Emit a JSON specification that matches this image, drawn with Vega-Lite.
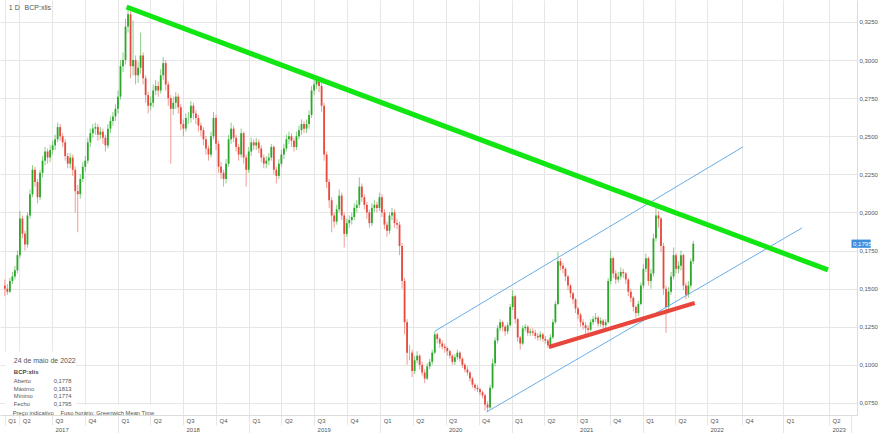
{
"$schema": "https://vega.github.io/schema/vega-lite/v6.json",
"width": 857, "height": 415,
"autosize": {"type": "none"},
"padding": {"left": 0, "top": 0, "right": 23, "bottom": 18},
"background": "white",
"config": {"view": {"stroke": null}, "font": "Liberation Sans"},
"resolve": {"axis": {"x": "independent"}},
"datasets": {
"candles": [
{"d":"2017-02-20","o":0.152,"h":0.156,"l":0.145,"c":0.150},
{"d":"2017-02-27","o":0.150,"h":0.153,"l":0.146,"c":0.148},
{"d":"2017-03-06","o":0.148,"h":0.157,"l":0.147,"c":0.155},
{"d":"2017-03-13","o":0.155,"h":0.161,"l":0.153,"c":0.158},
{"d":"2017-03-20","o":0.158,"h":0.165,"l":0.156,"c":0.162},
{"d":"2017-03-27","o":0.162,"h":0.175,"l":0.160,"c":0.172},
{"d":"2017-04-03","o":0.172,"h":0.201,"l":0.170,"c":0.196},
{"d":"2017-04-10","o":0.196,"h":0.198,"l":0.183,"c":0.186},
{"d":"2017-04-17","o":0.186,"h":0.188,"l":0.175,"c":0.179},
{"d":"2017-04-24","o":0.179,"h":0.200,"l":0.177,"c":0.198},
{"d":"2017-05-01","o":0.198,"h":0.215,"l":0.196,"c":0.212},
{"d":"2017-05-08","o":0.212,"h":0.231,"l":0.210,"c":0.228},
{"d":"2017-05-15","o":0.228,"h":0.230,"l":0.217,"c":0.220},
{"d":"2017-05-22","o":0.220,"h":0.222,"l":0.206,"c":0.210},
{"d":"2017-05-29","o":0.210,"h":0.228,"l":0.208,"c":0.226},
{"d":"2017-06-05","o":0.226,"h":0.237,"l":0.223,"c":0.234},
{"d":"2017-06-12","o":0.234,"h":0.243,"l":0.231,"c":0.240},
{"d":"2017-06-19","o":0.240,"h":0.242,"l":0.232,"c":0.236},
{"d":"2017-06-26","o":0.236,"h":0.244,"l":0.233,"c":0.241},
{"d":"2017-07-03","o":0.241,"h":0.247,"l":0.238,"c":0.244},
{"d":"2017-07-10","o":0.244,"h":0.251,"l":0.241,"c":0.248},
{"d":"2017-07-17","o":0.248,"h":0.259,"l":0.246,"c":0.256},
{"d":"2017-07-24","o":0.256,"h":0.258,"l":0.247,"c":0.250},
{"d":"2017-07-31","o":0.250,"h":0.252,"l":0.243,"c":0.246},
{"d":"2017-08-07","o":0.246,"h":0.248,"l":0.234,"c":0.237},
{"d":"2017-08-14","o":0.237,"h":0.239,"l":0.229,"c":0.232},
{"d":"2017-08-21","o":0.232,"h":0.239,"l":0.229,"c":0.236},
{"d":"2017-08-28","o":0.236,"h":0.238,"l":0.224,"c":0.228},
{"d":"2017-09-04","o":0.228,"h":0.230,"l":0.200,"c":0.214},
{"d":"2017-09-11","o":0.214,"h":0.218,"l":0.187,"c":0.212},
{"d":"2017-09-18","o":0.212,"h":0.225,"l":0.209,"c":0.222},
{"d":"2017-09-25","o":0.222,"h":0.233,"l":0.220,"c":0.230},
{"d":"2017-10-02","o":0.230,"h":0.237,"l":0.227,"c":0.234},
{"d":"2017-10-09","o":0.234,"h":0.249,"l":0.232,"c":0.246},
{"d":"2017-10-16","o":0.246,"h":0.255,"l":0.243,"c":0.252},
{"d":"2017-10-23","o":0.252,"h":0.258,"l":0.249,"c":0.255},
{"d":"2017-10-30","o":0.255,"h":0.259,"l":0.251,"c":0.256},
{"d":"2017-11-06","o":0.256,"h":0.258,"l":0.247,"c":0.251},
{"d":"2017-11-13","o":0.251,"h":0.256,"l":0.248,"c":0.253},
{"d":"2017-11-20","o":0.253,"h":0.255,"l":0.245,"c":0.249},
{"d":"2017-11-27","o":0.249,"h":0.251,"l":0.240,"c":0.244},
{"d":"2017-12-04","o":0.244,"h":0.258,"l":0.242,"c":0.255},
{"d":"2017-12-11","o":0.255,"h":0.263,"l":0.252,"c":0.260},
{"d":"2017-12-18","o":0.260,"h":0.266,"l":0.257,"c":0.263},
{"d":"2017-12-25","o":0.263,"h":0.271,"l":0.260,"c":0.268},
{"d":"2018-01-01","o":0.268,"h":0.280,"l":0.265,"c":0.276},
{"d":"2018-01-08","o":0.276,"h":0.300,"l":0.274,"c":0.296},
{"d":"2018-01-15","o":0.296,"h":0.305,"l":0.292,"c":0.300},
{"d":"2018-01-22","o":0.300,"h":0.327,"l":0.297,"c":0.322},
{"d":"2018-01-29","o":0.322,"h":0.335,"l":0.318,"c":0.330},
{"d":"2018-02-05","o":0.330,"h":0.332,"l":0.288,"c":0.296},
{"d":"2018-02-12","o":0.296,"h":0.326,"l":0.290,"c":0.300},
{"d":"2018-02-19","o":0.300,"h":0.303,"l":0.284,"c":0.290},
{"d":"2018-02-26","o":0.290,"h":0.299,"l":0.285,"c":0.295},
{"d":"2018-03-05","o":0.295,"h":0.318,"l":0.291,"c":0.303},
{"d":"2018-03-12","o":0.303,"h":0.305,"l":0.284,"c":0.288},
{"d":"2018-03-19","o":0.288,"h":0.290,"l":0.272,"c":0.277},
{"d":"2018-03-26","o":0.277,"h":0.279,"l":0.265,"c":0.270},
{"d":"2018-04-02","o":0.270,"h":0.276,"l":0.267,"c":0.272},
{"d":"2018-04-09","o":0.272,"h":0.284,"l":0.269,"c":0.280},
{"d":"2018-04-16","o":0.280,"h":0.287,"l":0.277,"c":0.283},
{"d":"2018-04-23","o":0.283,"h":0.286,"l":0.276,"c":0.280},
{"d":"2018-04-30","o":0.280,"h":0.294,"l":0.278,"c":0.290},
{"d":"2018-05-07","o":0.290,"h":0.302,"l":0.287,"c":0.298},
{"d":"2018-05-14","o":0.298,"h":0.300,"l":0.280,"c":0.284},
{"d":"2018-05-21","o":0.284,"h":0.286,"l":0.270,"c":0.275},
{"d":"2018-05-28","o":0.275,"h":0.277,"l":0.232,"c":0.268},
{"d":"2018-06-04","o":0.268,"h":0.276,"l":0.264,"c":0.272},
{"d":"2018-06-11","o":0.272,"h":0.279,"l":0.268,"c":0.276},
{"d":"2018-06-18","o":0.276,"h":0.278,"l":0.265,"c":0.269},
{"d":"2018-06-25","o":0.269,"h":0.271,"l":0.254,"c":0.258},
{"d":"2018-07-02","o":0.258,"h":0.261,"l":0.250,"c":0.255},
{"d":"2018-07-09","o":0.255,"h":0.265,"l":0.253,"c":0.262},
{"d":"2018-07-16","o":0.262,"h":0.266,"l":0.258,"c":0.262},
{"d":"2018-07-23","o":0.262,"h":0.273,"l":0.259,"c":0.270},
{"d":"2018-07-30","o":0.270,"h":0.272,"l":0.261,"c":0.265},
{"d":"2018-08-06","o":0.265,"h":0.267,"l":0.258,"c":0.262},
{"d":"2018-08-13","o":0.262,"h":0.264,"l":0.253,"c":0.257},
{"d":"2018-08-20","o":0.257,"h":0.259,"l":0.250,"c":0.254},
{"d":"2018-08-27","o":0.254,"h":0.256,"l":0.244,"c":0.248},
{"d":"2018-09-03","o":0.248,"h":0.250,"l":0.238,"c":0.242},
{"d":"2018-09-10","o":0.242,"h":0.244,"l":0.234,"c":0.238},
{"d":"2018-09-17","o":0.238,"h":0.253,"l":0.236,"c":0.250},
{"d":"2018-09-24","o":0.250,"h":0.266,"l":0.248,"c":0.262},
{"d":"2018-10-01","o":0.262,"h":0.264,"l":0.241,"c":0.245},
{"d":"2018-10-08","o":0.245,"h":0.247,"l":0.226,"c":0.230},
{"d":"2018-10-15","o":0.230,"h":0.233,"l":0.222,"c":0.226},
{"d":"2018-10-22","o":0.226,"h":0.228,"l":0.217,"c":0.222},
{"d":"2018-10-29","o":0.222,"h":0.235,"l":0.219,"c":0.232},
{"d":"2018-11-05","o":0.232,"h":0.251,"l":0.230,"c":0.248},
{"d":"2018-11-12","o":0.248,"h":0.259,"l":0.245,"c":0.255},
{"d":"2018-11-19","o":0.255,"h":0.257,"l":0.246,"c":0.249},
{"d":"2018-11-26","o":0.249,"h":0.251,"l":0.240,"c":0.243},
{"d":"2018-12-03","o":0.243,"h":0.245,"l":0.234,"c":0.238},
{"d":"2018-12-10","o":0.238,"h":0.255,"l":0.236,"c":0.252},
{"d":"2018-12-17","o":0.252,"h":0.253,"l":0.232,"c":0.236},
{"d":"2018-12-24","o":0.236,"h":0.238,"l":0.217,"c":0.228},
{"d":"2018-12-31","o":0.228,"h":0.243,"l":0.226,"c":0.240},
{"d":"2019-01-07","o":0.240,"h":0.249,"l":0.237,"c":0.246},
{"d":"2019-01-14","o":0.246,"h":0.248,"l":0.241,"c":0.244},
{"d":"2019-01-21","o":0.244,"h":0.249,"l":0.241,"c":0.246},
{"d":"2019-01-28","o":0.246,"h":0.248,"l":0.239,"c":0.242},
{"d":"2019-02-04","o":0.242,"h":0.244,"l":0.233,"c":0.236},
{"d":"2019-02-11","o":0.236,"h":0.238,"l":0.229,"c":0.232},
{"d":"2019-02-18","o":0.232,"h":0.237,"l":0.229,"c":0.234},
{"d":"2019-02-25","o":0.234,"h":0.239,"l":0.231,"c":0.236},
{"d":"2019-03-04","o":0.236,"h":0.245,"l":0.234,"c":0.243},
{"d":"2019-03-11","o":0.243,"h":0.244,"l":0.225,"c":0.228},
{"d":"2019-03-18","o":0.228,"h":0.230,"l":0.219,"c":0.224},
{"d":"2019-03-25","o":0.224,"h":0.235,"l":0.222,"c":0.232},
{"d":"2019-04-01","o":0.232,"h":0.241,"l":0.230,"c":0.238},
{"d":"2019-04-08","o":0.238,"h":0.245,"l":0.235,"c":0.242},
{"d":"2019-04-15","o":0.242,"h":0.251,"l":0.240,"c":0.248},
{"d":"2019-04-22","o":0.248,"h":0.253,"l":0.245,"c":0.250},
{"d":"2019-04-29","o":0.250,"h":0.252,"l":0.243,"c":0.247},
{"d":"2019-05-06","o":0.247,"h":0.249,"l":0.240,"c":0.243},
{"d":"2019-05-13","o":0.243,"h":0.253,"l":0.241,"c":0.250},
{"d":"2019-05-20","o":0.250,"h":0.257,"l":0.248,"c":0.254},
{"d":"2019-05-27","o":0.254,"h":0.261,"l":0.251,"c":0.258},
{"d":"2019-06-03","o":0.258,"h":0.260,"l":0.252,"c":0.255},
{"d":"2019-06-10","o":0.255,"h":0.261,"l":0.252,"c":0.258},
{"d":"2019-06-17","o":0.258,"h":0.267,"l":0.255,"c":0.264},
{"d":"2019-06-24","o":0.264,"h":0.283,"l":0.262,"c":0.280},
{"d":"2019-07-01","o":0.280,"h":0.287,"l":0.277,"c":0.284},
{"d":"2019-07-08","o":0.284,"h":0.289,"l":0.281,"c":0.287},
{"d":"2019-07-15","o":0.287,"h":0.289,"l":0.279,"c":0.283},
{"d":"2019-07-22","o":0.283,"h":0.285,"l":0.266,"c":0.270},
{"d":"2019-07-29","o":0.270,"h":0.272,"l":0.234,"c":0.238},
{"d":"2019-08-05","o":0.238,"h":0.240,"l":0.216,"c":0.220},
{"d":"2019-08-12","o":0.220,"h":0.222,"l":0.203,"c":0.208},
{"d":"2019-08-19","o":0.208,"h":0.210,"l":0.187,"c":0.198},
{"d":"2019-08-26","o":0.198,"h":0.200,"l":0.190,"c":0.194},
{"d":"2019-09-02","o":0.194,"h":0.205,"l":0.192,"c":0.202},
{"d":"2019-09-09","o":0.202,"h":0.215,"l":0.200,"c":0.211},
{"d":"2019-09-16","o":0.211,"h":0.213,"l":0.195,"c":0.198},
{"d":"2019-09-23","o":0.198,"h":0.200,"l":0.177,"c":0.186},
{"d":"2019-09-30","o":0.186,"h":0.196,"l":0.184,"c":0.193},
{"d":"2019-10-07","o":0.193,"h":0.198,"l":0.190,"c":0.195},
{"d":"2019-10-14","o":0.195,"h":0.200,"l":0.192,"c":0.197},
{"d":"2019-10-21","o":0.197,"h":0.206,"l":0.195,"c":0.203},
{"d":"2019-10-28","o":0.203,"h":0.208,"l":0.200,"c":0.205},
{"d":"2019-11-04","o":0.205,"h":0.223,"l":0.203,"c":0.217},
{"d":"2019-11-11","o":0.217,"h":0.219,"l":0.207,"c":0.210},
{"d":"2019-11-18","o":0.210,"h":0.212,"l":0.202,"c":0.205},
{"d":"2019-11-25","o":0.205,"h":0.207,"l":0.196,"c":0.200},
{"d":"2019-12-02","o":0.200,"h":0.202,"l":0.190,"c":0.193},
{"d":"2019-12-09","o":0.193,"h":0.206,"l":0.191,"c":0.203},
{"d":"2019-12-16","o":0.203,"h":0.208,"l":0.200,"c":0.205},
{"d":"2019-12-23","o":0.205,"h":0.207,"l":0.200,"c":0.203},
{"d":"2019-12-30","o":0.203,"h":0.213,"l":0.201,"c":0.210},
{"d":"2020-01-06","o":0.210,"h":0.212,"l":0.197,"c":0.200},
{"d":"2020-01-13","o":0.200,"h":0.202,"l":0.189,"c":0.192},
{"d":"2020-01-20","o":0.192,"h":0.194,"l":0.184,"c":0.188},
{"d":"2020-01-27","o":0.188,"h":0.200,"l":0.186,"c":0.198},
{"d":"2020-02-03","o":0.198,"h":0.203,"l":0.195,"c":0.200},
{"d":"2020-02-10","o":0.200,"h":0.202,"l":0.190,"c":0.193},
{"d":"2020-02-17","o":0.193,"h":0.196,"l":0.189,"c":0.192},
{"d":"2020-02-24","o":0.192,"h":0.194,"l":0.172,"c":0.178},
{"d":"2020-03-02","o":0.178,"h":0.180,"l":0.150,"c":0.155},
{"d":"2020-03-09","o":0.155,"h":0.157,"l":0.120,"c":0.128},
{"d":"2020-03-16","o":0.128,"h":0.130,"l":0.100,"c":0.108},
{"d":"2020-03-23","o":0.108,"h":0.113,"l":0.103,"c":0.108},
{"d":"2020-03-30","o":0.108,"h":0.110,"l":0.092,"c":0.096},
{"d":"2020-04-06","o":0.096,"h":0.106,"l":0.094,"c":0.103},
{"d":"2020-04-13","o":0.103,"h":0.109,"l":0.101,"c":0.106},
{"d":"2020-04-20","o":0.106,"h":0.107,"l":0.097,"c":0.100},
{"d":"2020-04-27","o":0.100,"h":0.102,"l":0.093,"c":0.095},
{"d":"2020-05-04","o":0.095,"h":0.097,"l":0.088,"c":0.091},
{"d":"2020-05-11","o":0.091,"h":0.101,"l":0.090,"c":0.099},
{"d":"2020-05-18","o":0.099,"h":0.104,"l":0.097,"c":0.102},
{"d":"2020-05-25","o":0.102,"h":0.110,"l":0.100,"c":0.108},
{"d":"2020-06-01","o":0.108,"h":0.122,"l":0.107,"c":0.120},
{"d":"2020-06-08","o":0.120,"h":0.121,"l":0.114,"c":0.117},
{"d":"2020-06-15","o":0.117,"h":0.118,"l":0.111,"c":0.114},
{"d":"2020-06-22","o":0.114,"h":0.116,"l":0.110,"c":0.112},
{"d":"2020-06-29","o":0.112,"h":0.114,"l":0.108,"c":0.111},
{"d":"2020-07-06","o":0.111,"h":0.112,"l":0.106,"c":0.109},
{"d":"2020-07-13","o":0.109,"h":0.110,"l":0.104,"c":0.106},
{"d":"2020-07-20","o":0.106,"h":0.107,"l":0.100,"c":0.102},
{"d":"2020-07-27","o":0.102,"h":0.107,"l":0.100,"c":0.105},
{"d":"2020-08-03","o":0.105,"h":0.110,"l":0.103,"c":0.108},
{"d":"2020-08-10","o":0.108,"h":0.109,"l":0.102,"c":0.104},
{"d":"2020-08-17","o":0.104,"h":0.105,"l":0.098,"c":0.100},
{"d":"2020-08-24","o":0.100,"h":0.101,"l":0.095,"c":0.097},
{"d":"2020-08-31","o":0.097,"h":0.099,"l":0.093,"c":0.095},
{"d":"2020-09-07","o":0.095,"h":0.096,"l":0.089,"c":0.091},
{"d":"2020-09-14","o":0.091,"h":0.092,"l":0.085,"c":0.087},
{"d":"2020-09-21","o":0.087,"h":0.088,"l":0.083,"c":0.085},
{"d":"2020-09-28","o":0.085,"h":0.087,"l":0.082,"c":0.084},
{"d":"2020-10-05","o":0.084,"h":0.085,"l":0.080,"c":0.082},
{"d":"2020-10-12","o":0.082,"h":0.083,"l":0.078,"c":0.080},
{"d":"2020-10-19","o":0.080,"h":0.081,"l":0.070,"c":0.074},
{"d":"2020-10-26","o":0.074,"h":0.076,"l":0.069,"c":0.072},
{"d":"2020-11-02","o":0.072,"h":0.087,"l":0.071,"c":0.085},
{"d":"2020-11-09","o":0.085,"h":0.104,"l":0.084,"c":0.101},
{"d":"2020-11-16","o":0.101,"h":0.118,"l":0.099,"c":0.116},
{"d":"2020-11-23","o":0.116,"h":0.126,"l":0.114,"c":0.124},
{"d":"2020-11-30","o":0.124,"h":0.130,"l":0.122,"c":0.128},
{"d":"2020-12-07","o":0.128,"h":0.129,"l":0.122,"c":0.125},
{"d":"2020-12-14","o":0.125,"h":0.126,"l":0.119,"c":0.122},
{"d":"2020-12-21","o":0.122,"h":0.128,"l":0.120,"c":0.126},
{"d":"2020-12-28","o":0.126,"h":0.140,"l":0.125,"c":0.138},
{"d":"2021-01-04","o":0.138,"h":0.149,"l":0.136,"c":0.145},
{"d":"2021-01-11","o":0.145,"h":0.146,"l":0.127,"c":0.130},
{"d":"2021-01-18","o":0.130,"h":0.131,"l":0.115,"c":0.118},
{"d":"2021-01-25","o":0.118,"h":0.119,"l":0.110,"c":0.114},
{"d":"2021-02-01","o":0.114,"h":0.126,"l":0.113,"c":0.124},
{"d":"2021-02-08","o":0.124,"h":0.127,"l":0.122,"c":0.125},
{"d":"2021-02-15","o":0.125,"h":0.126,"l":0.119,"c":0.121},
{"d":"2021-02-22","o":0.121,"h":0.124,"l":0.119,"c":0.122},
{"d":"2021-03-01","o":0.122,"h":0.124,"l":0.119,"c":0.121},
{"d":"2021-03-08","o":0.121,"h":0.123,"l":0.117,"c":0.119},
{"d":"2021-03-15","o":0.119,"h":0.121,"l":0.116,"c":0.118},
{"d":"2021-03-22","o":0.118,"h":0.122,"l":0.116,"c":0.120},
{"d":"2021-03-29","o":0.120,"h":0.121,"l":0.115,"c":0.117},
{"d":"2021-04-05","o":0.117,"h":0.119,"l":0.114,"c":0.116},
{"d":"2021-04-12","o":0.116,"h":0.117,"l":0.111,"c":0.113},
{"d":"2021-04-19","o":0.113,"h":0.120,"l":0.112,"c":0.118},
{"d":"2021-04-26","o":0.118,"h":0.130,"l":0.117,"c":0.128},
{"d":"2021-05-03","o":0.128,"h":0.142,"l":0.127,"c":0.140},
{"d":"2021-05-10","o":0.140,"h":0.174,"l":0.139,"c":0.168},
{"d":"2021-05-17","o":0.168,"h":0.170,"l":0.162,"c":0.165},
{"d":"2021-05-24","o":0.165,"h":0.167,"l":0.160,"c":0.163},
{"d":"2021-05-31","o":0.163,"h":0.164,"l":0.155,"c":0.158},
{"d":"2021-06-07","o":0.158,"h":0.159,"l":0.149,"c":0.152},
{"d":"2021-06-14","o":0.152,"h":0.153,"l":0.144,"c":0.147},
{"d":"2021-06-21","o":0.147,"h":0.148,"l":0.140,"c":0.143},
{"d":"2021-06-28","o":0.143,"h":0.144,"l":0.134,"c":0.137},
{"d":"2021-07-05","o":0.137,"h":0.138,"l":0.130,"c":0.133},
{"d":"2021-07-12","o":0.133,"h":0.134,"l":0.125,"c":0.128},
{"d":"2021-07-19","o":0.128,"h":0.130,"l":0.123,"c":0.126},
{"d":"2021-07-26","o":0.126,"h":0.128,"l":0.120,"c":0.124},
{"d":"2021-08-02","o":0.124,"h":0.126,"l":0.121,"c":0.123},
{"d":"2021-08-09","o":0.123,"h":0.130,"l":0.122,"c":0.128},
{"d":"2021-08-16","o":0.128,"h":0.132,"l":0.126,"c":0.130},
{"d":"2021-08-23","o":0.130,"h":0.134,"l":0.128,"c":0.131},
{"d":"2021-08-30","o":0.131,"h":0.132,"l":0.125,"c":0.127},
{"d":"2021-09-06","o":0.127,"h":0.131,"l":0.125,"c":0.129},
{"d":"2021-09-13","o":0.129,"h":0.130,"l":0.124,"c":0.126},
{"d":"2021-09-20","o":0.126,"h":0.130,"l":0.124,"c":0.128},
{"d":"2021-09-27","o":0.128,"h":0.157,"l":0.127,"c":0.155},
{"d":"2021-10-04","o":0.155,"h":0.175,"l":0.153,"c":0.170},
{"d":"2021-10-11","o":0.170,"h":0.171,"l":0.157,"c":0.160},
{"d":"2021-10-18","o":0.160,"h":0.162,"l":0.153,"c":0.156},
{"d":"2021-10-25","o":0.156,"h":0.161,"l":0.154,"c":0.158},
{"d":"2021-11-01","o":0.158,"h":0.164,"l":0.156,"c":0.161},
{"d":"2021-11-08","o":0.161,"h":0.163,"l":0.157,"c":0.160},
{"d":"2021-11-15","o":0.160,"h":0.161,"l":0.153,"c":0.156},
{"d":"2021-11-22","o":0.156,"h":0.157,"l":0.145,"c":0.148},
{"d":"2021-11-29","o":0.148,"h":0.150,"l":0.141,"c":0.144},
{"d":"2021-12-06","o":0.144,"h":0.145,"l":0.135,"c":0.138},
{"d":"2021-12-13","o":0.138,"h":0.139,"l":0.131,"c":0.134},
{"d":"2021-12-20","o":0.134,"h":0.142,"l":0.132,"c":0.140},
{"d":"2021-12-27","o":0.140,"h":0.154,"l":0.139,"c":0.152},
{"d":"2022-01-03","o":0.152,"h":0.166,"l":0.150,"c":0.163},
{"d":"2022-01-10","o":0.163,"h":0.173,"l":0.161,"c":0.170},
{"d":"2022-01-17","o":0.170,"h":0.171,"l":0.152,"c":0.155},
{"d":"2022-01-24","o":0.155,"h":0.163,"l":0.150,"c":0.160},
{"d":"2022-01-31","o":0.160,"h":0.186,"l":0.158,"c":0.183},
{"d":"2022-02-07","o":0.183,"h":0.203,"l":0.181,"c":0.198},
{"d":"2022-02-14","o":0.198,"h":0.201,"l":0.190,"c":0.196},
{"d":"2022-02-21","o":0.196,"h":0.197,"l":0.174,"c":0.178},
{"d":"2022-02-28","o":0.178,"h":0.180,"l":0.146,"c":0.150},
{"d":"2022-03-07","o":0.150,"h":0.152,"l":0.121,"c":0.138},
{"d":"2022-03-14","o":0.138,"h":0.151,"l":0.135,"c":0.148},
{"d":"2022-03-21","o":0.148,"h":0.161,"l":0.146,"c":0.158},
{"d":"2022-03-28","o":0.158,"h":0.177,"l":0.156,"c":0.172},
{"d":"2022-04-04","o":0.172,"h":0.173,"l":0.160,"c":0.163},
{"d":"2022-04-11","o":0.163,"h":0.168,"l":0.160,"c":0.165},
{"d":"2022-04-18","o":0.165,"h":0.175,"l":0.162,"c":0.172},
{"d":"2022-04-25","o":0.172,"h":0.173,"l":0.149,"c":0.152},
{"d":"2022-05-02","o":0.152,"h":0.154,"l":0.143,"c":0.146},
{"d":"2022-05-09","o":0.146,"h":0.155,"l":0.144,"c":0.152},
{"d":"2022-05-16","o":0.152,"h":0.170,"l":0.150,"c":0.168},
{"d":"2022-05-23","o":0.168,"h":0.1813,"l":0.166,"c":0.1795}
],
"lines": [
{"g":"verde","d":"2018-01-25","v":0.3348},
{"g":"verde","d":"2023-03-30","v":0.1623}
],
"channel": [
{"g":"sup","d":"2020-06-02","v":0.1222},
{"g":"sup","d":"2022-10-03","v":0.243},
{"g":"inf","d":"2020-10-23","v":0.069},
{"g":"inf","d":"2023-02-07","v":0.1898}
],
"support": [
{"d":"2021-04-15","v":0.1117},
{"d":"2022-05-27","v":0.1406}
],
"boxes": [
{"d":"2017-02-20","d2":"2017-09-06","v":0.1088,"v2":0.0671},
{"d":"2017-02-20","d2":"2018-04-08","v":0.0737,"v2":0.0671}
],
"texts": [
{"d":"2017-03-17","v":0.0894,"t":"Aberto"},
{"d":"2017-07-06","v":0.0894,"t":"0,1778"},
{"d":"2017-03-17","v":0.0842,"t":"Máximo"},
{"d":"2017-07-06","v":0.0842,"t":"0,1813"},
{"d":"2017-03-17","v":0.0793,"t":"Mínimo"},
{"d":"2017-07-06","v":0.0793,"t":"0,1774"},
{"d":"2017-03-17","v":0.0743,"t":"Fecho"},
{"d":"2017-07-06","v":0.0743,"t":"0,1795"},
{"d":"2017-03-14","v":0.0684,"t":"Preço indicativo"},
{"d":"2017-07-25","v":0.0684,"t":"Fuso horário: Greenwich Mean Time"}
],
"header": [
{"d":"2017-03-03","v":0.3342,"t":"1 D"},
{"d":"2017-04-16","v":0.3342,"t":"BCP:xlis"},
{"d":"2017-03-17","v":0.1026,"t":"24 de maio de 2022"}
],
"pricebox": [
{"d":"2023-05-26","d2":"2023-07-12","v":0.1822,"v2":0.1768,"t":"0,1795","dt":"2023-05-30","vt":0.1795}
]
},
"encoding": {
"x": {"field": "d", "type": "quantitative", "title": null,
 "scale": {"type": "linear", "domain": [1487548800000, 1648771200000, 1656633600000, 1664582400000, 1672531200000, 1680307200000, 1685059200000], "range": [0, 675, 707, 742, 783, 829, 857], "zero": false, "nice": false}},
"y": {"type": "quantitative", "title": null,
 "scale": {"domain": [0.0671, 0.3394], "nice": false, "zero": false}}
},
"layer": [
{"data": {"name": "candles", "format": {"parse": {"d": "date"}}},
 "mark": {"type": "rule", "strokeWidth": 1, "opacity": 0.55},
 "encoding": {
  "x": {"field": "d", "type": "quantitative", "title": null,
   "axis": {"orient": "bottom", "tickCount": 100, "values": [1487548800000,1491004800000,1498867200000,1506816000000,1514764800000,1522540800000,1530403200000,1538352000000,1546300800000,1554076800000,1561939200000,1569888000000,1577836800000,1585699200000,1593561600000,1601510400000,1609459200000,1617235200000,1625097600000,1633046400000,1640995200000,1648771200000,1656633600000,1664582400000,1672531200000,1680307200000],
    "labelExpr": "datum.value == 1487548800000 ? 'Q1' : ((utcFormat(datum.value, '%q') == '3' || datum.value == 1680307200000) ? ['Q' + utcFormat(datum.value, '%q'), utcFormat(datum.value, '%Y')] : 'Q' + utcFormat(datum.value, '%q'))",
    "labelAlign": "left", "labelBaseline": "top", "labelOffset": 3, "labelPadding": -8, "labelLineHeight": 9,
    "labelFontSize": 6, "labelColor": "#555555", "labelFont": "Liberation Sans",
    "labelOverlap": false, "labelFlush": false, "labelBound": false,
    "grid": true, "gridColor": "#e6e6e6", "gridWidth": 1,
    "ticks": true, "tickSize": 10, "tickColor": "#e6e6e6",
    "domain": true, "domainColor": "#dcdcdc"}},
  "y": {"field": "l", "type": "quantitative", "title": null,
   "axis": {"orient": "right", "tickCount": 30, "values": [0.075,0.1,0.125,0.15,0.175,0.2,0.225,0.25,0.275,0.3,0.325],
    "labelExpr": "replace(format(datum.value, '.4f'), '.', ',')",
    "labelFontSize": 6, "labelColor": "#555555", "labelFont": "Liberation Sans", "labelPadding": 2,
    "labelBaseline": "middle", "labelOverlap": false,
    "grid": true, "gridColor": "#e6e6e6", "ticks": false, "domain": true, "domainColor": "#dcdcdc"}},
  "y2": {"field": "h"},
  "color": {"condition": {"test": "datum.c >= datum.o", "value": "#2aa82a"}, "value": "#e64a3e"}
 }},
{"data": {"name": "candles", "format": {"parse": {"d": "date"}}},
 "mark": {"type": "bar", "size": 1.8},
 "encoding": {
  "x": {"field": "d", "type": "quantitative", "title": null, "axis": null},
  "y": {"field": "o", "type": "quantitative", "title": null},
  "y2": {"field": "c"},
  "color": {"condition": {"test": "datum.c >= datum.o", "value": "#2aa82a"}, "value": "#e64a3e"}
 }},
{"data": {"name": "boxes", "format": {"parse": {"d": "date", "d2": "date"}}},
 "mark": {"type": "rect", "color": "white"},
 "encoding": {
  "x": {"field": "d", "type": "quantitative", "title": null,
   "axis": {"orient": "bottom", "tickCount": 100, "values": [1514764800000,1546300800000,1577836800000,1609459200000,1640995200000,1672531200000,1685059200000],
    "labels": false, "grid": false, "domain": false, "ticks": true, "tickSize": 18, "tickColor": "#e6e6e6"}},
  "x2": {"field": "d2"},
  "y": {"field": "v", "type": "quantitative", "title": null}, "y2": {"field": "v2"}
 }},
{"data": {"name": "channel", "format": {"parse": {"d": "date"}}},
 "mark": {"type": "line", "strokeWidth": 1, "color": "#6aaee8"},
 "encoding": {
  "x": {"field": "d", "type": "quantitative", "title": null, "axis": null},
  "y": {"field": "v", "type": "quantitative", "title": null},
  "detail": {"field": "g"}
 }},
{"data": {"name": "lines", "format": {"parse": {"d": "date"}}},
 "mark": {"type": "line", "strokeWidth": 5, "color": "#12e612", "strokeCap": "butt"},
 "encoding": {
  "x": {"field": "d", "type": "quantitative", "title": null, "axis": null},
  "y": {"field": "v", "type": "quantitative", "title": null}
 }},
{"data": {"name": "support", "format": {"parse": {"d": "date"}}},
 "mark": {"type": "line", "strokeWidth": 4, "color": "#e8453c", "strokeCap": "butt"},
 "encoding": {
  "x": {"field": "d", "type": "quantitative", "title": null, "axis": null},
  "y": {"field": "v", "type": "quantitative", "title": null}
 }},
{"data": {"values": [{"v": 0.1795}]},
 "mark": {"type": "rule", "color": "#f2a0a0", "strokeDash": [4, 3], "strokeWidth": 1},
 "encoding": {
  "x": {"field": "d", "type": "quantitative", "title": null, "axis": null},
  "y": {"field": "v", "type": "quantitative", "title": null}
 }},
{"data": {"name": "pricebox", "format": {"parse": {"d": "date", "d2": "date"}}},
 "mark": {"type": "rect", "color": "#3d8fdc"},
 "encoding": {
  "x": {"field": "d", "type": "quantitative", "title": null, "axis": null}, "x2": {"field": "d2"},
  "y": {"field": "v", "type": "quantitative", "title": null}, "y2": {"field": "v2"}
 }},
{"data": {"name": "pricebox", "format": {"parse": {"dt": "date"}}},
 "mark": {"type": "text", "align": "left", "baseline": "middle", "fontSize": 6, "color": "white", "font": "Liberation Sans"},
 "encoding": {
  "x": {"field": "dt", "type": "quantitative", "title": null, "axis": null},
  "y": {"field": "vt", "type": "quantitative", "title": null},
  "text": {"field": "t"}
 }},
{"data": {"name": "texts", "format": {"parse": {"d": "date"}}},
 "mark": {"type": "text", "align": "left", "baseline": "middle", "fontSize": 5.8, "color": "#555555", "font": "Liberation Sans"},
 "encoding": {
  "x": {"field": "d", "type": "quantitative", "title": null, "axis": null},
  "y": {"field": "v", "type": "quantitative", "title": null},
  "text": {"field": "t"}
 }},
{"data": {"name": "header", "format": {"parse": {"d": "date"}}},
 "mark": {"type": "text", "align": "left", "baseline": "middle", "fontSize": 7, "color": "#555555", "font": "Liberation Sans"},
 "encoding": {
  "x": {"field": "d", "type": "quantitative", "title": null, "axis": null},
  "y": {"field": "v", "type": "quantitative", "title": null},
  "text": {"field": "t"}
 }},
{"data": {"values": [{"d":"2017-03-17","v":0.0953,"t":"BCP:xlis"}], "format": {"parse": {"d": "date"}}},
 "mark": {"type": "text", "align": "left", "baseline": "middle", "fontSize": 6, "fontWeight": "bold", "color": "#444444", "font": "Liberation Sans"},
 "encoding": {
  "x": {"field": "d", "type": "quantitative", "title": null, "axis": null},
  "y": {"field": "v", "type": "quantitative", "title": null},
  "text": {"field": "t"}
 }}
]
}
